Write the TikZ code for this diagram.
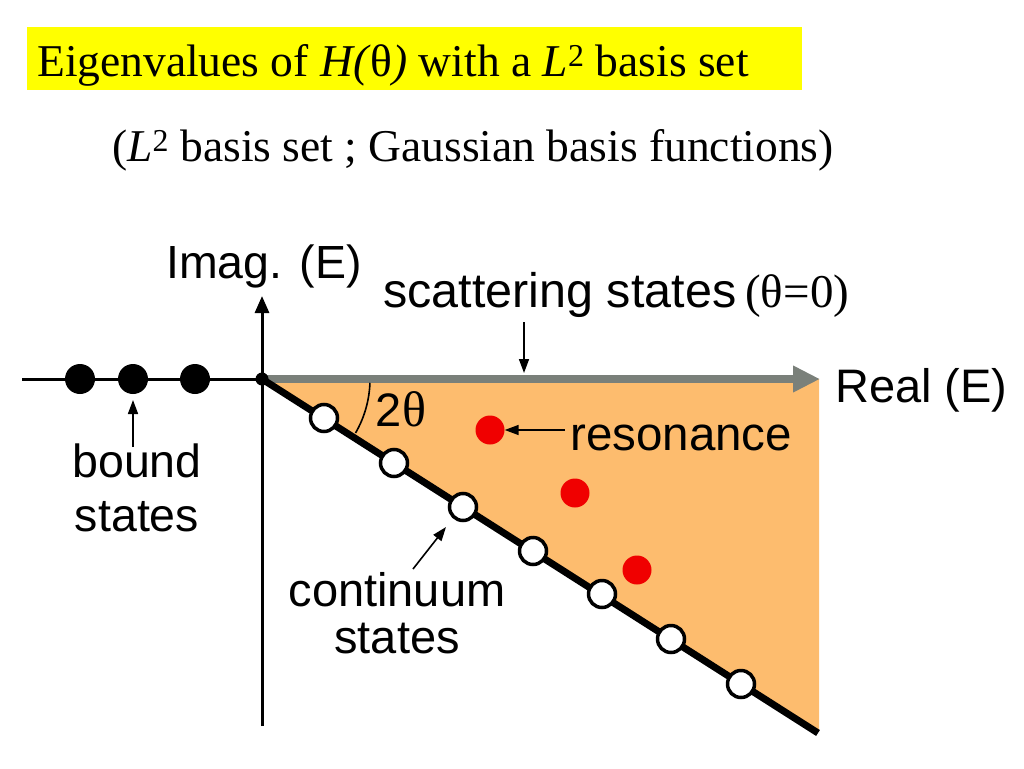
\documentclass[tikz,border=0pt]{standalone}
\usepackage{fontspec}
\setmainfont{Liberation Serif}
\setsansfont{Liberation Sans}
\usetikzlibrary{arrows.meta}
\definecolor{hl}{RGB}{255,255,0}
\definecolor{fillor}{RGB}{253,188,110}
\definecolor{axgray}{RGB}{122,128,122}
\definecolor{resred}{RGB}{240,0,0}
\newcommand{\lblsize}[2]{\sffamily\fontsize{#1}{#2}\selectfont}
\begin{document}
\begin{tikzpicture}[x=1pt,y=-1pt,
  lbl/.style={inner sep=0pt},
  ttl/.style={inner sep=0pt},
  bdot/.style={circle,fill=black,minimum size=30pt,inner sep=0pt},
  odot/.style={circle,draw=black,line width=3.5pt,fill=white,minimum size=27pt,inner sep=0pt},
  rdot/.style={circle,fill=resred,minimum size=29pt,inner sep=0pt},
  ann/.style={line width=1.6pt,-{Triangle[length=14pt,width=10pt]}},
]
\useasboundingbox (0,0) rectangle (1024,768);
% title
\fill[hl] (27,27) rectangle (802,90);
\node[ttl, font=\fontsize{45.5}{50}\selectfont, anchor=base west] (title) at (37,76)
  {Eigenvalues of \textit{H(}θ\textit{)} with a \textit{L}\textsuperscript{2} basis set};
\node[ttl, font=\fontsize{45.5}{50}\selectfont, anchor=base west] (sub) at (112,161)
  {(\textit{L}\textsuperscript{2} basis set ; Gaussian basis functions)};
% geometry
\coordinate (O) at (262,379);
\coordinate (Lend) at (22,379);
\coordinate (Vtop) at (262,296);
\coordinate (Vbot) at (262,726);
\coordinate (Rend) at (820,379);
\coordinate (Dend) at (818,733);
\fill[fillor] (O) -- (819,379) -- (819,732) -- cycle;
\draw[line width=3pt] (Lend) -- (O);
\draw[line width=3pt, -{Triangle[length=17pt,width=14pt]}] (Vbot) -- (Vtop);
\draw[axgray, line width=8pt, -{Triangle[length=27pt,width=25pt]}] (O) -- (Rend);
\draw[line width=7pt] (O) -- (Dend);
\draw[line width=1.6pt] (O) ++(2:108) arc[start angle=2, end angle=30, radius=108];
\node[circle,fill=black,minimum size=13pt,inner sep=0pt] (origin) at (O) {};
% bound states
\node[bdot] (b1) at (80,379) {};
\node[bdot] (b2) at (133,379) {};
\node[bdot] (b3) at (195,379) {};
% continuum
\node[odot] (c1) at (324,418) {};
\node[odot] (c2) at (394,463) {};
\node[odot] (c3) at (463,507) {};
\node[odot] (c4) at (533,551) {};
\node[odot] (c5) at (602,594) {};
\node[odot] (c6) at (671,639) {};
\node[odot] (c7) at (741,684) {};
% resonances
\node[rdot] (r1) at (490,430) {};
\node[rdot] (r2) at (575,493) {};
\node[rdot] (r3) at (637,570) {};
% labels
\node[lbl, font=\lblsize{46.5}{50}, anchor=base west] (imag) at (166,278) {Imag. (E)};
\node[lbl, font=\lblsize{48.5}{52}, anchor=base west] (scat) at (383,307)
  {scattering states\hspace{9pt}{\rmfamily\fontsize{47}{50}\selectfont(θ=0)}};
\node[lbl, font=\lblsize{47}{50}, anchor=base west] (real) at (835,402) {Real (E)};
\node[lbl, font=\lblsize{47.5}{50}, anchor=base west] (res) at (570,450) {resonance};
\node[lbl, font=\lblsize{47}{50}, anchor=base] (twoth) at (401,426)
  {2{\rmfamily\fontsize{50}{50}\selectfont θ}};
\node[lbl, font=\lblsize{46.5}{54}, align=center, anchor=north] (bound) at (137,444) {bound\\states};
\node[lbl, font=\lblsize{47}{47}, align=center, anchor=north] (cont) at (397,572) {continuum\\states};
% annotation arrows
\coordinate (sa) at (524,322);
\coordinate (sb) at (524,373);
\draw[ann] (sa) -- (sb);
\coordinate (ra) at (565,430);
\draw[ann] (ra) -- (r1.east);
\coordinate (ba) at (133,447);
\coordinate (bb) at (133,400);
\draw[ann] (ba) -- (bb);
\coordinate (ca) at (413,569);
\coordinate (cb) at (446,527);
\draw[ann] (ca) -- (cb);
\end{tikzpicture}
\end{document}
